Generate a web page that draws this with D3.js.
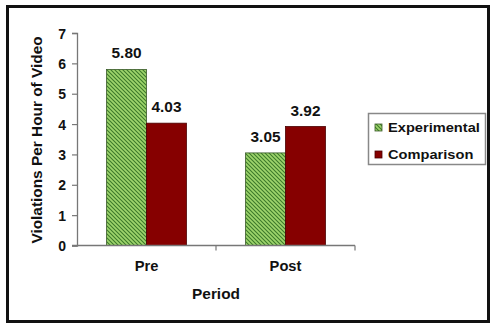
<!DOCTYPE html>
<html>
<head>
<meta charset="utf-8">
<script src="https://cdn.jsdelivr.net/npm/d3@7"></script>
<style>
  html, body { margin: 0; padding: 0; background: #fff; }
  svg { display: block; }
  text { font-family: "Liberation Sans", Arial, sans-serif; font-weight: bold; fill: #111; }
</style>
</head>
<body>
<svg id="chart" width="490" height="324"></svg>
<script>
// Violations per hour of video, by period and group
const periods = ["Pre", "Post"];
const groups = ["Experimental", "Comparison"];
const experimental = [5.80, 3.05];
const comparison = [4.03, 3.92];
const yTicks = [0, 1, 2, 3, 4, 5, 6, 7];

const values = [experimental, comparison];
const rows = periods.map((p, i) => ({
  period: p,
  bars: groups.map((g, j) => ({ group: g, value: values[j][i] }))
}));

const svg = d3.select("#chart");

// outer frame
svg.append("rect")
  .attr("x", 7.5).attr("y", 6.5).attr("width", 481).attr("height", 315)
  .attr("fill", "#fff").attr("stroke", "#111").attr("stroke-width", 3);

// hatch for the experimental group
const defs = svg.append("defs");
const pat = defs.append("pattern")
  .attr("id", "hatch").attr("patternUnits", "userSpaceOnUse")
  .attr("width", 4).attr("height", 4);
pat.append("rect").attr("width", 4).attr("height", 4).attr("fill", "#9ed56c");
pat.append("path")
  .attr("d", "M-1,-1 L5,5 M3,-1 L5,1 M-1,3 L1,5")
  .attr("stroke", "#3d7a2a").attr("stroke-width", 1.1);

const color = { Experimental: "url(#hatch)", Comparison: "#860000" };
const edge = { Experimental: "#3a5a2a", Comparison: "#4a0000" };

const x0 = d3.scaleBand().domain(periods).range([77, 355]).padding(0);
const x1 = d3.scaleBand().domain(groups).range([0, x0.bandwidth()])
  .paddingInner(0).paddingOuter(0.74);
const y = d3.scaleLinear().domain([0, 7]).range([245.5, 33]);

// stretched bold label helper
function label(g, x, yy, txt, size, sx, anchor) {
  return g.append("text")
    .attr("transform", `translate(${x},${yy}) scale(${sx},1)`)
    .attr("text-anchor", anchor || "middle")
    .style("font-size", size + "px")
    .text(txt);
}

// y axis
const yAxis = svg.append("g")
  .attr("transform", "translate(77,0)")
  .call(d3.axisLeft(y).tickValues(yTicks).tickSize(5).tickPadding(6).tickFormat(d3.format("d")));
yAxis.select(".domain").attr("stroke", "#777").attr("stroke-width", 1.3);
yAxis.selectAll(".tick line").attr("stroke", "#777").attr("stroke-width", 1.2);
yAxis.selectAll(".tick text")
  .style("font-family", "'Liberation Sans', Arial, sans-serif")
  .style("font-weight", "bold").style("font-size", "14px").attr("fill", "#111")
  .attr("dy", "0.36em");

// bars
const grp = svg.append("g").selectAll("g").data(rows).join("g")
  .attr("transform", d => `translate(${x0(d.period)},0)`);
grp.selectAll("rect").data(d => d.bars).join("rect")
  .attr("x", d => x1(d.group))
  .attr("y", d => y(d.value))
  .attr("width", x1.bandwidth())
  .attr("height", d => y(0) - y(d.value))
  .attr("fill", d => color[d.group])
  .attr("stroke", d => edge[d.group]).attr("stroke-width", 0.8);

// value labels
grp.each(function (d) {
  const g = d3.select(this);
  d.bars.forEach(b => {
    label(g, x1(b.group) + x1.bandwidth() / 2, y(b.value) - 11, b.value.toFixed(2), 14, 1.1);
  });
});

// x axis
const xAxis = svg.append("g").attr("transform", `translate(0,${y(0)})`);
xAxis.append("line").attr("x1", 72).attr("x2", 355).attr("stroke", "#777").attr("stroke-width", 1.3);
const bounds = periods.map(p => x0(p) + x0.bandwidth());
xAxis.selectAll("line.tk").data(bounds).join("line").attr("class", "tk")
  .attr("x1", d => d).attr("x2", d => d).attr("y1", 0).attr("y2", 5)
  .attr("stroke", "#777").attr("stroke-width", 1.2);
periods.forEach(p => label(svg, x0(p) + x0.bandwidth() / 2, 271, p, 14, 1.05));

// axis titles
label(svg, 216, 299, "Period", 14, 1.1);
svg.append("text")
  .attr("transform", "translate(42,140) rotate(-90) scale(1.1,1)")
  .attr("text-anchor", "middle").style("font-size", "14px")
  .text("Violations Per Hour of Video");

// legend
const lg = svg.append("g");
lg.append("rect").attr("x", 368.5).attr("y", 113.5).attr("width", 117).attr("height", 51)
  .attr("fill", "#fff").attr("stroke", "#888").attr("stroke-width", 1.5);
groups.forEach((g, i) => {
  const yy = 124 + i * 27;
  lg.append("rect").attr("x", 375).attr("y", yy).attr("width", 7).attr("height", 7)
    .attr("fill", color[g]).attr("stroke", edge[g]).attr("stroke-width", 0.8);
  label(lg, 388, yy + 8, g, 12, 1.22, "start");
});
</script>
</body>
</html>
